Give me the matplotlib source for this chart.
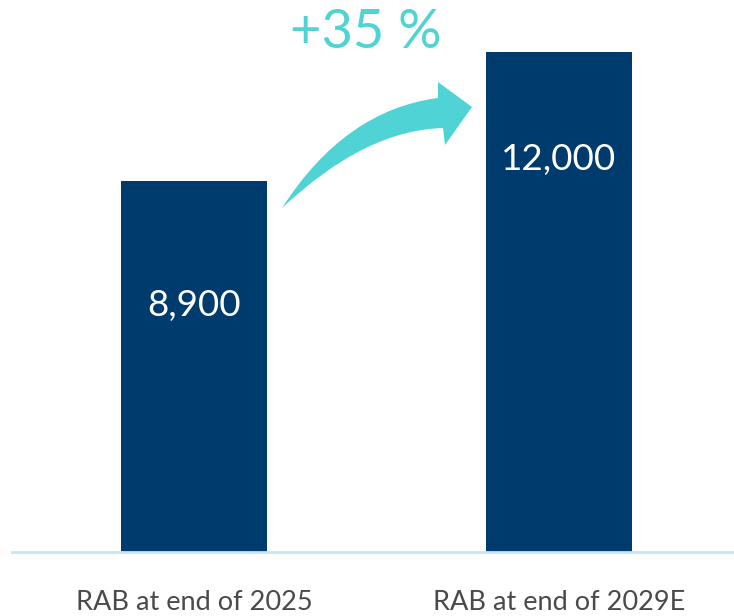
import matplotlib
matplotlib.use("Agg")
import matplotlib.pyplot as plt
from matplotlib.path import Path
from matplotlib.patches import PathPatch

categories = ["RAB at end of 2025", "RAB at end of 2029E"]
values = [8900, 12000]
value_labels = ["8,900", "12,000"]
growth_label = "+35 %"

NAVY = "#003B6D"
TEAL = "#50D3D4"
GRAY = "#4a4a4a"
AXIS = "#c8e5f8"

W, H = 734, 616
fig = plt.figure(figsize=(W / 100, H / 100), dpi=100)
ax = fig.add_axes([12 / W, (H - 552) / H, 1 - 12 / W, 552 / H])
plt.rcParams['font.family'] = ['Lato', 'DejaVu Sans']

x = list(range(len(categories)))
ax.bar(x, values, width=0.4, color=NAVY, zorder=2)
ax.set_xlim(-0.4986, 1.4795)
ax.set_ylim(0, 13248)

for s in ["top", "right", "left"]:
    ax.spines[s].set_visible(False)
ax.spines["bottom"].set_color(AXIS)
ax.spines["bottom"].set_linewidth(2)
ax.set_yticks([])
ax.set_xticks(x)
ax.set_xticklabels(categories, fontsize=19.5, color=GRAY, family=['Lato', 'DejaVu Sans'])
ax.tick_params(axis="x", length=0, pad=27)

label_y = [values[0] * 0.665, values[1] * 0.785]
for xi, v, lab, ly in zip(x, values, value_labels, label_y):
    ax.text(xi, ly, lab, ha="center", va="center", color="white", fontsize=26.5,
            family=['Lato', 'DejaVu Sans'], zorder=3)

fig.text(366 / W, 1 - 33 / H, growth_label, ha="center", va="center",
         color=TEAL, fontsize=39, family=['Lato', 'DejaVu Sans'])

# curved arrow (decoration), pixel coords from top-left
def P(px, py):
    return (px / W, 1 - py / H)

verts = [P(282, 208), P(345, 110), P(438, 98), P(438, 82), P(472, 107),
         P(445, 145), P(443, 128), P(365, 130), P(282, 208), P(282, 208)]
codes = [Path.MOVETO, Path.CURVE3, Path.CURVE3, Path.LINETO, Path.LINETO,
         Path.LINETO, Path.LINETO, Path.CURVE3, Path.CURVE3, Path.CLOSEPOLY]
fig.patches.append(PathPatch(Path(verts, codes), transform=fig.transFigure,
                             facecolor=TEAL, edgecolor="none"))

fig.savefig("out.png", dpi=100)
